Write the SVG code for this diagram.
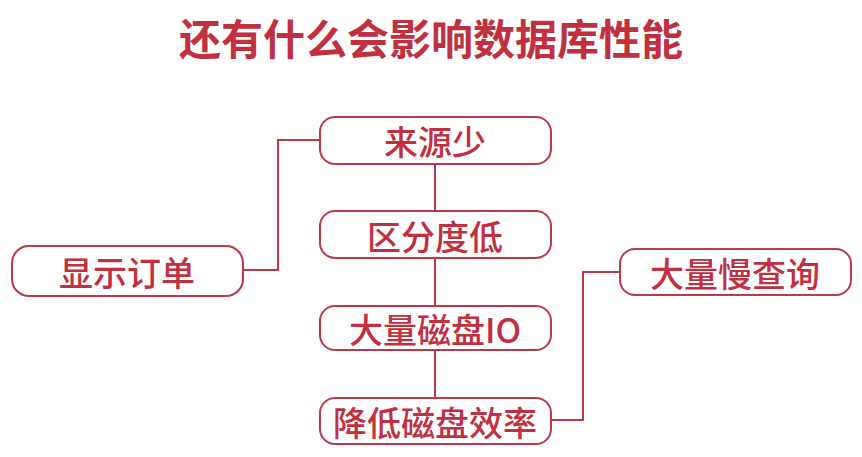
<svg xmlns="http://www.w3.org/2000/svg" width="862" height="457" viewBox="0 0 862 457">
<style>
.b{fill:#fff;stroke:#b83a4c;stroke-width:2}
.t{font-family:"Noto Sans CJK SC","Noto Sans",sans-serif;fill:#c0303f;font-size:34px;font-weight:500;text-anchor:middle;dominant-baseline:central}
.c{fill:none;stroke:#b83a4c;stroke-width:2}
</style>
<rect width="862" height="457" fill="#fff"/>
<text x="431" y="36" class="t" style="font-size:42px;font-weight:bold">还有什么会影响数据库性能</text>
<g id="connectors">
<path class="c" d="M435 164V211M435 258V306M435 350V398M243 270H278V140H320M551 420H583V272H620"/>
</g>
<g id="n1"><rect class="b" x="320" y="117" width="231" height="47" rx="15"/><text class="t" x="435" y="140">来源少</text></g>
<g id="n2"><rect class="b" x="320" y="211" width="231" height="47" rx="15"/><text class="t" x="435" y="235">区分度低</text></g>
<g id="n3"><rect class="b" x="320" y="306" width="231" height="44" rx="15"/><text class="t" x="435" y="328">大量磁盘IO</text></g>
<g id="n4"><rect class="b" x="320" y="398" width="231" height="46" rx="15"/><text class="t" x="435" y="421">降低磁盘效率</text></g>
<g id="n5"><rect class="b" x="12" y="246" width="231" height="50" rx="17"/><text class="t" x="127" y="271">显示订单</text></g>
<g id="n6"><rect class="b" x="620" y="249" width="231" height="46" rx="15"/><text class="t" x="735" y="272">大量慢查询</text></g>
</svg>
